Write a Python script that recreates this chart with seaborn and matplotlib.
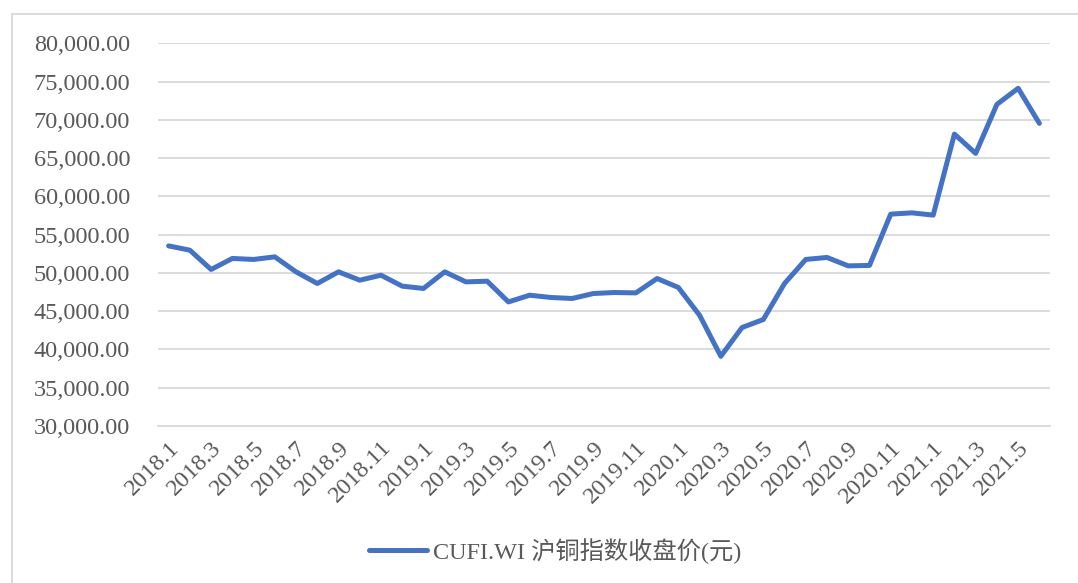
import matplotlib
matplotlib.use("Agg")
import matplotlib.pyplot as plt
import numpy as np
import pandas as pd
import seaborn as sns
from matplotlib.lines import Line2D
from matplotlib.ticker import FuncFormatter, FixedLocator

months = [f"{y}.{m}" for y in (2018, 2019, 2020) for m in range(1, 13)] + [f"2021.{m}" for m in range(1, 7)]
close_price = [
    53530, 52970, 50450, 51890, 51760, 52100, 50140, 48620, 50140, 49050, 49700, 48270,
    47970, 50140, 48830, 48920, 46210, 47090, 46790, 46660, 47310, 47440, 47390, 49270,
    48100, 44470, 39110, 42870, 43910, 48620, 51760, 52020, 50920, 50980, 57680, 57850,
    57550, 68140, 65620, 72020, 74120, 69540,
]
series_label = "CUFI.WI 沪铜指数收盘价(元)"

df = pd.DataFrame({"month": months, "close": close_price})
df["pos"] = np.arange(len(df))

sns.set_theme(style="white")
plt.rcParams["font.family"] = ["Liberation Serif", "Noto Sans CJK SC"]
text_color = "#595959"
grid_color = "#d9d9d9"

fig = plt.figure(figsize=(10.78, 5.83), dpi=100)
W, H = 1078, 583
ax = fig.add_axes([158 / W, 1 - 426 / H, (1050 - 158) / W, (426 - 43.3) / H])

sns.lineplot(data=df, x="pos", y="close", ax=ax, color="#4472C4", linewidth=3.6,
             solid_capstyle="round", solid_joinstyle="round", legend=False)

ax.set_xlim(-0.5, len(df) - 0.5)
ax.set_ylim(30000, 80000)
ax.set_yticks(np.arange(30000, 80001, 5000))
ax.yaxis.set_major_formatter(FuncFormatter(lambda v, _: f"{v:,.2f}"))
ax.yaxis.grid(True, color=grid_color, linewidth=1.3)
ax.set_axisbelow(True)

ax.set_xticks(df["pos"][::2])
ax.set_xticklabels(df["month"][::2], rotation=45, ha="right", va="top",
                   rotation_mode="anchor")
ax.xaxis.set_minor_locator(FixedLocator(np.arange(-0.5, len(df), 1)))
ax.tick_params(axis="x", which="major", length=0, pad=8, labelsize=17.5, colors=text_color)
ax.tick_params(axis="x", which="minor", length=6, width=1.3, color=grid_color, direction="out")
ax.tick_params(axis="y", length=0, pad=20, labelsize=17.5, colors=text_color)
ax.set_xlabel("")
ax.set_ylabel("")

for side in ("top", "right", "left"):
    ax.spines[side].set_visible(False)
ax.spines["bottom"].set_color(grid_color)
ax.spines["bottom"].set_linewidth(1.3)

handle = Line2D([], [], color="#4472C4", linewidth=3.6, solid_capstyle="round")
fig.legend([handle], [series_label], loc="center", bbox_to_anchor=(555 / W, 1 - 551 / H),
           frameon=False, fontsize=17.5, handlelength=2.4, handletextpad=0.25,
           labelcolor=text_color)

# outer chart border (left and top edges only visible)
fig.add_artist(Line2D([12.5 / W, 12.5 / W], [0, 1 - 13.5 / H], color=grid_color,
                      linewidth=1.3, transform=fig.transFigure))
fig.add_artist(Line2D([12.5 / W, 1], [1 - 13.5 / H, 1 - 13.5 / H], color=grid_color,
                      linewidth=1.3, transform=fig.transFigure))

fig.savefig("out.png", dpi=100)
